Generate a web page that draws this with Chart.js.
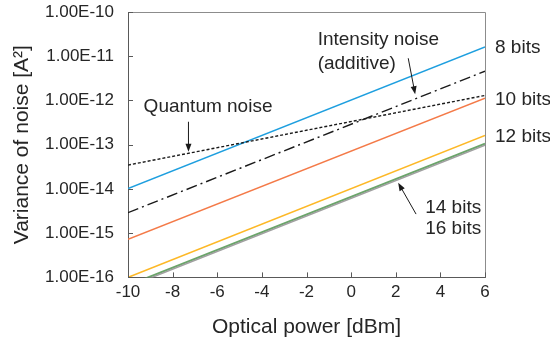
<!DOCTYPE html>
<html>
<head>
<meta charset="utf-8">
<script src="https://cdn.jsdelivr.net/npm/chart.js@4/dist/chart.umd.min.js"></script>
<style>
  html, body { margin: 0; padding: 0; background: #fff; }
  #wrap { width: 550px; height: 344px; }
</style>
</head>
<body>
<div id="wrap"><canvas id="noiseChart"></canvas></div>
<script>
// values (straight lines on the log scale, endpoints only)
const powerDbm = [-10, 6];
const bits8 = [1.02e-14, 1.62e-11];
const bits10 = [7.3e-16, 1.12e-12];
const bits12 = [1.0e-16, 1.62e-13];
const bits14 = [6.6e-17, 1.05e-13];
const bits16 = [6.1e-17, 0.97e-13];
const quantumNoise = [3.46e-14, 1.3e-12];
const intensityNoise = [2.9e-15, 4.6e-12];

const xTicks = [-10, -8, -6, -4, -2, 0, 2, 4, 6];
const yTicks = [1e-16, 1e-15, 1e-14, 1e-13, 1e-12, 1e-11, 1e-10];
const yTickLabels = ["1.00E-16", "1.00E-15", "1.00E-14", "1.00E-13", "1.00E-12", "1.00E-11", "1.00E-10"];

const FONT = "'Liberation Sans', Arial, sans-serif";

function pts(ys) {
  return powerDbm.map((x, i) => ({ x: x, y: ys[i] }));
}

function line(label, ys, color, dash, width) {
  return {
    label: label,
    data: pts(ys),
    borderColor: color,
    borderWidth: width || 1.5,
    borderDash: dash || [],
    pointRadius: 0,
    fill: false
  };
}

// frame, inside ticks and the text notes
const decorations = {
  id: "decorations",
  afterDraw(chart) {
    const ctx = chart.ctx;
    const a = chart.chartArea;
    const xs = chart.scales.x;
    const ys = chart.scales.y;
    ctx.save();

    // gray frame at top and right
    ctx.strokeStyle = "#8c8c8c";
    ctx.lineWidth = 1;
    ctx.beginPath();
    ctx.moveTo(a.left, a.top + 0.5);
    ctx.lineTo(a.right + 0.5, a.top + 0.5);
    ctx.lineTo(a.right + 0.5, a.bottom);
    ctx.stroke();

    // inside ticks
    ctx.strokeStyle = "#595959";
    ctx.beginPath();
    xTicks.forEach(v => {
      const p = Math.round(xs.getPixelForValue(v)) + 0.5;
      ctx.moveTo(p, a.bottom);
      ctx.lineTo(p, a.bottom - 5);
    });
    yTicks.forEach(v => {
      const p = Math.round(ys.getPixelForValue(v)) + 0.5;
      ctx.moveTo(a.left, p);
      ctx.lineTo(a.left + 5, p);
    });
    ctx.stroke();

    // series labels at the right end
    ctx.fillStyle = "#262626";
    ctx.font = "19px " + FONT;
    ctx.textBaseline = "middle";
    ctx.textAlign = "left";
    const ends = [["8 bits", bits8], ["10 bits", bits10], ["12 bits", bits12]];
    ends.forEach(([t, arr]) => {
      ctx.fillText(t, a.right + 10, ys.getPixelForValue(arr[arr.length - 1]) + 1);
    });

    const P = (x, y) => [xs.getPixelForValue(x), ys.getPixelForValue(y)];
    const text = (t, x, y) => { const p = P(x, y); ctx.fillText(t, p[0], p[1]); };
    text("Quantum noise", -9.3, 7.2e-13);
    text("Intensity noise", -1.5, 2.3e-11);
    text("(additive)", -1.5, 6.6e-12);
    text("14 bits", 3.32, 3.7e-15);
    text("16 bits", 3.32, 1.23e-15);

    function arrow(x1, y1, x2, y2) {
      const s = P(x1, y1), e = P(x2, y2);
      const ang = Math.atan2(e[1] - s[1], e[0] - s[0]);
      ctx.strokeStyle = "#1a1a1a";
      ctx.fillStyle = "#1a1a1a";
      ctx.lineWidth = 1;
      ctx.beginPath();
      ctx.moveTo(s[0], s[1]);
      ctx.lineTo(e[0] - 6 * Math.cos(ang), e[1] - 6 * Math.sin(ang));
      ctx.stroke();
      ctx.beginPath();
      ctx.moveTo(e[0], e[1]);
      ctx.lineTo(e[0] - 8 * Math.cos(ang) + 3 * Math.sin(ang), e[1] - 8 * Math.sin(ang) - 3 * Math.cos(ang));
      ctx.lineTo(e[0] - 8 * Math.cos(ang) - 3 * Math.sin(ang), e[1] - 8 * Math.sin(ang) + 3 * Math.cos(ang));
      ctx.closePath();
      ctx.fill();
    }
    arrow(-7.29, 3.3e-13, -7.29, 6.9e-14);
    arrow(2.56, 9e-12, 2.87, 1.38e-12);
    arrow(2.91, 2.7e-15, 2.11, 1.38e-14);

    ctx.restore();
  }
};

const ctx = document.getElementById("noiseChart").getContext("2d");
new Chart(ctx, {
  type: "line",
  data: {
    datasets: [
      line("Quantum noise", quantumNoise, "#1a1a1a", [3, 2], 1.4),
      line("Intensity noise (additive)", intensityNoise, "#1a1a1a", [11, 4, 2, 4], 1.4),
      line("16 bits", bits16, "#a0a0a0", [], 1.5),
      line("14 bits", bits14, "#6aa56a", [], 2),
      line("12 bits", bits12, "#fdb827", [], 1.5),
      line("10 bits", bits10, "#f47a48", [], 1.5),
      line("8 bits", bits8, "#1e9fdf", [], 1.5)
    ]
  },
  options: {
    responsive: true,
    maintainAspectRatio: false,
    animation: false,
    layout: { padding: { left: 10, right: 65, top: 12, bottom: 4 } },
    plugins: {
      legend: { display: false },
      tooltip: { enabled: false }
    },
    scales: {
      x: {
        type: "linear",
        min: -10,
        max: 6,
        afterBuildTicks: axis => { axis.ticks = xTicks.map(v => ({ value: v })); },
        grid: { display: false, drawTicks: false },
        border: { display: true, color: "#595959", width: 1 },
        ticks: { color: "#262626", font: { family: FONT, size: 17 }, padding: 5, maxRotation: 0 },
        title: { display: true, text: "Optical power [dBm]", color: "#262626", font: { family: FONT, size: 21 }, padding: { top: 7, bottom: 0 } }
      },
      y: {
        type: "logarithmic",
        min: 1e-16,
        max: 1e-10,
        afterBuildTicks: axis => { axis.ticks = yTicks.map(v => ({ value: v })); },
        afterFit: axis => { axis.paddingTop = 0; axis.paddingBottom = 0; axis.width = 118; },
        grid: { display: false, drawTicks: false },
        border: { display: true, color: "#595959", width: 1 },
        ticks: {
          color: "#262626",
          font: { family: FONT, size: 17 },
          padding: 14,
          callback: (v) => yTickLabels[yTicks.findIndex(t => Math.abs(Math.log10(t) - Math.log10(v)) < 1e-6)]
        },
        title: { display: true, text: "Variance of noise [A²]", color: "#262626", font: { family: FONT, size: 21 }, padding: { top: 0, bottom: 10 } }
      }
    }
  },
  plugins: [decorations]
});
</script>
</body>
</html>
